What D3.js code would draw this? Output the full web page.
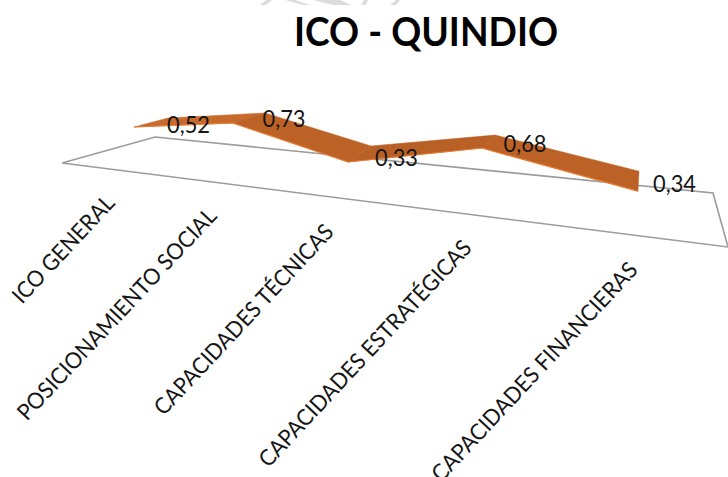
<!DOCTYPE html>
<html><head><meta charset="utf-8">
<style>html,body{margin:0;background:#fff;overflow:hidden}svg{display:block}text{font-family:Lato,"Open Sans",sans-serif;fill:#151515}</style>
<script src="https://cdn.jsdelivr.net/npm/d3@7/dist/d3.min.js"></script></head><body>
<script>
const categories=["ICO GENERAL","POSICIONAMIENTO SOCIAL","CAPACIDADES TÉCNICAS","CAPACIDADES ESTRATÉGICAS","CAPACIDADES FINANCIERAS"];
const values=[0.52,0.73,0.33,0.68,0.34];
const valueLabels=["0,52","0,73","0,33","0,68","0,34"];
const title="ICO - QUINDIO";
const W=728,H=477;
const svg=d3.select("body").append("svg").attr("width",W).attr("height",H);
// perspective projection expressed as scales over category index
const idx=categories.map((d,i)=>i);
const xFront=d3.scaleLinear().domain(idx).range([134,233,348,482,638]);
const xBack=d3.scaleLinear().domain(idx).range([168,265,371,495,639]);
const baseFront=d3.scaleLinear().domain(idx).range([163.4,174.1,185.1,195.6,215]);
const baseBack=d3.scaleLinear().domain(idx).range([154.4,164.1,169.1,182.6,195]);
const h=d3.scaleLinear().domain([0,1]).range([0,70]);
const front=(v,i)=>[xFront(i),baseFront(i)-h(v)];
const back=(v,i)=>[xBack(i),baseBack(i)-h(v)];
const line=d3.line();
// watermark remnants at the top edge
const wm=svg.append("g").attr("fill","#dcdcdc");
[[[260,5],[266,0],[272,0],[266,5]],[[285,0],[295,0],[310,5],[303,5]],[[313,0],[340,0],[352,5],[333,5]],[[361,5],[364,0],[368,0],[366,5]],[[390,5],[396,0],[400,0],[396,5]]]
 .forEach(p=>wm.append("path").attr("d",line(p)+"Z"));
// floor
const floor=[[62,163],[155,137],[713,193],[728,247]];
svg.append("path").attr("d",line(floor)+"Z").attr("fill","none").attr("stroke","#9c9c9c").attr("stroke-width",1.6);
// ribbon
const g=svg.append("g");
const faceFill=["#c76a2b","#bd6226","#b96026","#bd6226"];
d3.pairs(idx).forEach(([a,b],k)=>{
 g.append("path").attr("d",line([front(values[a],a),front(values[b],b),back(values[b],b),back(values[a],a)])+"Z")
  .attr("fill",faceFill[k]).attr("stroke",faceFill[k]).attr("stroke-width",.5);
});
g.append("path").attr("d",line(values.map(front))).attr("fill","none").attr("stroke","#e87a30").attr("stroke-width",1.2);
// labels
const lx=d3.scaleLinear().domain(idx).range([188.5,284,396.5,525,674.5]), ly=d3.scaleLinear().domain(idx).range([133,127,166,152,192]);
svg.selectAll(".v").data(valueLabels).join("text").attr("class","v").attr("x",(d,i)=>lx(i)).attr("y",(d,i)=>ly(i)).attr("text-anchor","middle").attr("font-size",23)
 .attr("textLength",43).attr("lengthAdjust","spacingAndGlyphs").text(d=>d);
const tx=d3.scaleLinear().domain(idx).range([116,218,335,473,639]), ty=d3.scaleLinear().domain(idx).range([204,217,233,249,271]);
const lens=[138,280,251,300,290];
svg.selectAll(".c").data(categories).join("text").attr("class","c").attr("text-anchor","start").attr("font-size",22.5)
 .attr("textLength",(d,i)=>lens[i]).attr("lengthAdjust","spacingAndGlyphs")
 .attr("transform",(d,i)=>`translate(${tx(i)},${ty(i)}) rotate(-47) translate(${-lens[i]},0)`).text(d=>d);
svg.append("text").attr("x",294).attr("y",46).attr("font-size",40).attr("font-weight",700).style("fill","#000")
 .attr("textLength",264).attr("lengthAdjust","spacingAndGlyphs").text(title);
</script></body></html>
